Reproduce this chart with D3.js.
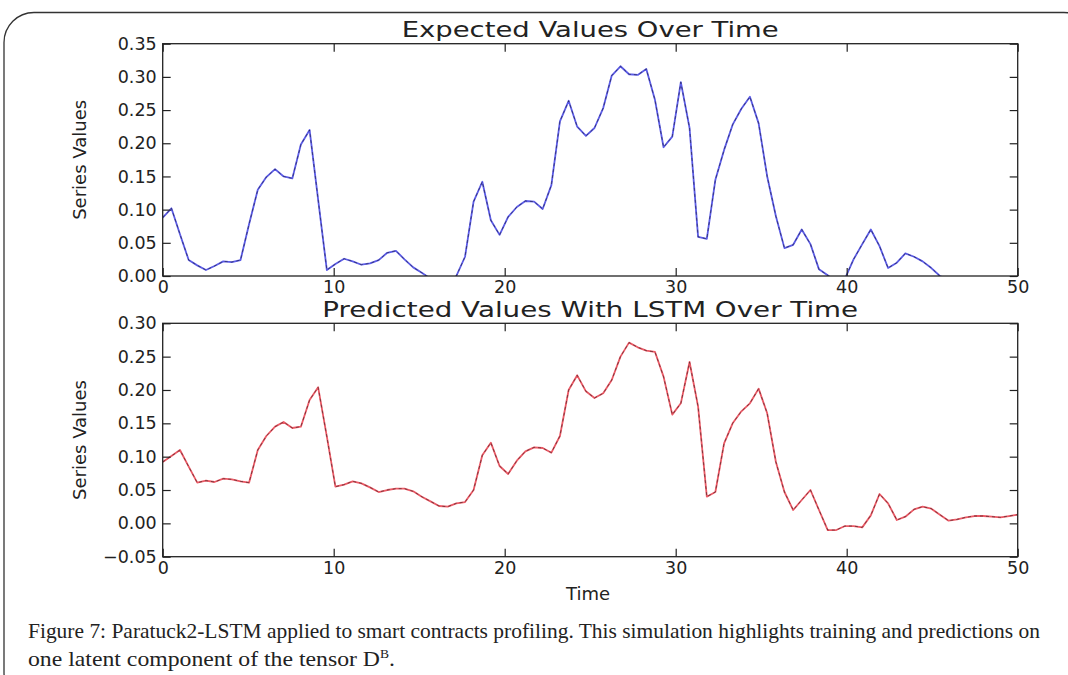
<!DOCTYPE html>
<html lang="en">
<head>
<meta charset="UTF-8">
<title>Expected vs Predicted</title>
<script src="https://d3js.org/d3.v7.min.js"></script>
<style>
  body { margin: 0; background: #fff; }
  svg text { fill: #222; }
</style>
</head>
<body>
<svg width="1068" height="675"></svg>
<script>

    // time axis: 100 samples spread over 0..50
    const time = [0, 0.51, 1.01, 1.52, 2.02, 2.53, 3.03, 3.54, 4.04, 4.55,
        5.05, 5.56, 6.06, 6.57, 7.07, 7.58, 8.08, 8.59, 9.09, 9.60,
        10.10, 10.61, 11.11, 11.62, 12.12, 12.63, 13.13, 13.64, 14.14, 14.65,
        15.15, 15.66, 16.16, 16.67, 17.17, 17.68, 18.18, 18.69, 19.19, 19.70,
        20.20, 20.71, 21.21, 21.72, 22.22, 22.73, 23.23, 23.74, 24.24, 24.75,
        25.25, 25.76, 26.26, 26.77, 27.27, 27.78, 28.28, 28.79, 29.29, 29.80,
        30.30, 30.81, 31.31, 31.82, 32.32, 32.83, 33.33, 33.84, 34.34, 34.85,
        35.35, 35.86, 36.36, 36.87, 37.37, 37.88, 38.38, 38.89, 39.39, 39.90,
        40.40, 40.91, 41.41, 41.92, 42.42, 42.93, 43.43, 43.94, 44.44, 44.95,
        45.45, 45.96, 46.46, 46.97, 47.47, 47.98, 48.48, 48.99, 49.49, 50];

    const expected = [0.088, 0.102, 0.063, 0.024, 0.016, 0.009, 0.015, 0.022, 0.021, 0.024,
        0.078, 0.130, 0.149, 0.161, 0.150, 0.147, 0.198, 0.220, 0.115, 0.009,
        0.018, 0.026, 0.022, 0.017, 0.019, 0.024, 0.035, 0.038, 0.025, 0.013,
        0.005, -0.004, -0.012, -0.012, 0.000, 0.029, 0.112, 0.142, 0.084, 0.062,
        0.089, 0.104, 0.113, 0.112, 0.101, 0.137, 0.233, 0.264, 0.225, 0.211,
        0.223, 0.253, 0.302, 0.316, 0.304, 0.303, 0.312, 0.265, 0.194, 0.210,
        0.292, 0.223, 0.059, 0.056, 0.145, 0.190, 0.228, 0.252, 0.270, 0.230,
        0.150, 0.090, 0.042, 0.047, 0.070, 0.048, 0.010, 0.001, -0.008, -0.004,
        0.025, 0.048, 0.070, 0.045, 0.012, 0.020, 0.034, 0.029, 0.022, 0.012,
        0.000, -0.006, -0.012, -0.015, -0.015, -0.012, -0.010, -0.010, -0.012, -0.010];

    const predicted = [0.092, 0.101, 0.110, 0.085, 0.061, 0.064, 0.062, 0.067, 0.066, 0.063,
        0.061, 0.110, 0.131, 0.145, 0.152, 0.143, 0.145, 0.185, 0.204, 0.130,
        0.055, 0.058, 0.063, 0.060, 0.054, 0.047, 0.050, 0.052, 0.052, 0.048,
        0.040, 0.033, 0.026, 0.025, 0.030, 0.032, 0.050, 0.102, 0.121, 0.086,
        0.074, 0.094, 0.108, 0.114, 0.113, 0.106, 0.131, 0.200, 0.222, 0.198,
        0.188, 0.195, 0.215, 0.250, 0.271, 0.264, 0.259, 0.257, 0.220, 0.163,
        0.180, 0.242, 0.175, 0.040, 0.047, 0.120, 0.150, 0.168, 0.180, 0.202,
        0.165, 0.092, 0.047, 0.020, 0.035, 0.050, 0.020, -0.010, -0.010, -0.004,
        -0.004, -0.006, 0.012, 0.044, 0.030, 0.005, 0.010, 0.021, 0.025, 0.022,
        0.013, 0.004, 0.006, 0.009, 0.011, 0.011, 0.010, 0.009, 0.011, 0.013];

    const xTicks = [0, 10, 20, 30, 40, 50];
    const yTicksTop = [0, 0.05, 0.10, 0.15, 0.20, 0.25, 0.30, 0.35];
    const yTicksBottom = [-0.05, 0, 0.05, 0.10, 0.15, 0.20, 0.25, 0.30];

    const left = 162.7, right = 1017.7;
    const svg = d3.select("svg");

    // outer rounded frame of the figure
    svg.append("rect")
        .attr("x", 4).attr("y", 12.5)
        .attr("width", 1090).attr("height", 690)
        .attr("rx", 30).attr("ry", 30)
        .attr("fill", "none").attr("stroke", "#333").attr("stroke-width", 1.3);

    const x = d3.scaleLinear().domain([0, 50]).range([left, right]);

    drawPanel({
        id: "top", top: 43.7, bottom: 276, values: expected, ticks: yTicksTop,
        domain: [0, 0.35], color: "#5c5ce8",
        title: "Expected Values Over Time", titleY: 37, titleLen: 377
    });
    drawPanel({
        id: "bot", top: 323.3, bottom: 556.7, values: predicted, ticks: yTicksBottom,
        domain: [-0.05, 0.30], color: "#ec5a66",
        title: "Predicted Values With LSTM Over Time", titleY: 317, titleLen: 536
    });

    svg.append("text")
        .attr("x", 588).attr("y", 600)
        .attr("text-anchor", "middle")
        .style("font-family", "DejaVu Sans")
        .style("font-size", "18px")
        .text("Time");

    // caption
    const cap = svg.append("g")
        .style("font-family", "Liberation Serif")
        .style("font-size", "21px");
    cap.append("text")
        .attr("x", 28).attr("y", 638)
        .attr("textLength", 1012).attr("lengthAdjust", "spacingAndGlyphs")
        .text("Figure 7: Paratuck2-LSTM applied to smart contracts profiling. This simulation highlights training and predictions on");
    const line2 = cap.append("text")
        .attr("x", 28).attr("y", 666)
        .attr("textLength", 367).attr("lengthAdjust", "spacingAndGlyphs");
    line2.append("tspan").text("one latent component of the tensor D");
    line2.append("tspan").attr("dy", -8).style("font-size", "12px").text("B");
    line2.append("tspan").attr("dy", 8).text(".");

    function drawPanel(p) {
        const y = d3.scaleLinear().domain(p.domain).range([p.bottom, p.top]);
        const g = svg.append("g");

        g.append("clipPath").attr("id", "clip-" + p.id)
            .append("rect")
            .attr("x", left).attr("y", p.top)
            .attr("width", right - left).attr("height", p.bottom - p.top);

        const line = d3.line()
            .x((d, i) => x(time[i]))
            .y(d => y(d));

        // coloured series with a thin dark dashed trace over it
        const lines = g.append("g").attr("clip-path", `url(#clip-${p.id})`);
        lines.append("path")
            .datum(p.values)
            .attr("d", line)
            .attr("fill", "none")
            .attr("stroke", p.color)
            .attr("stroke-width", 1.8)
            .attr("stroke-linejoin", "round");
        lines.append("path")
            .datum(p.values)
            .attr("d", line)
            .attr("fill", "none")
            .attr("stroke", "#111")
            .attr("stroke-width", 0.9)
            .attr("stroke-dasharray", "3,3")
            .attr("opacity", 0.55);

        const fmt = v => (v < 0 ? "\u2212" : "") + Math.abs(v).toFixed(2);
        const tickStyle = sel => {
            sel.select(".domain").remove();
            sel.selectAll(".tick line").attr("stroke", "#222").attr("stroke-width", 1.2);
            sel.selectAll("text")
                .style("font-family", "DejaVu Sans")
                .style("font-size", "17.5px")
                .attr("fill", "#222");
        };

        g.append("g").attr("transform", `translate(${left},0)`)
            .call(d3.axisLeft(y).tickValues(p.ticks).tickFormat(fmt).tickSize(-8).tickPadding(6))
            .call(tickStyle);
        g.append("g").attr("transform", `translate(${right},0)`)
            .call(d3.axisRight(y).tickValues(p.ticks).tickFormat("").tickSize(-8))
            .call(tickStyle);
        g.append("g").attr("transform", `translate(0,${p.bottom})`)
            .call(d3.axisBottom(x).tickValues(xTicks).tickFormat(d3.format("d")).tickSize(-8).tickPadding(5))
            .call(tickStyle);
        g.append("g").attr("transform", `translate(0,${p.top})`)
            .call(d3.axisTop(x).tickValues(xTicks).tickFormat("").tickSize(-8))
            .call(tickStyle);

        g.append("rect")
            .attr("x", left).attr("y", p.top)
            .attr("width", right - left).attr("height", p.bottom - p.top)
            .attr("fill", "none").attr("stroke", "#222").attr("stroke-width", 1.3);

        g.append("text")
            .attr("x", (left + right) / 2).attr("y", p.titleY)
            .attr("text-anchor", "middle")
            .attr("textLength", p.titleLen).attr("lengthAdjust", "spacingAndGlyphs")
            .style("font-family", "DejaVu Sans")
            .style("font-size", "21px")
            .text(p.title);

        g.append("text")
            .attr("transform", `translate(86,${(p.top + p.bottom) / 2}) rotate(-90)`)
            .attr("text-anchor", "middle")
            .attr("textLength", 120).attr("lengthAdjust", "spacingAndGlyphs")
            .style("font-family", "DejaVu Sans")
            .style("font-size", "18px")
            .text("Series Values");
    }
</script>
</body>
</html>
